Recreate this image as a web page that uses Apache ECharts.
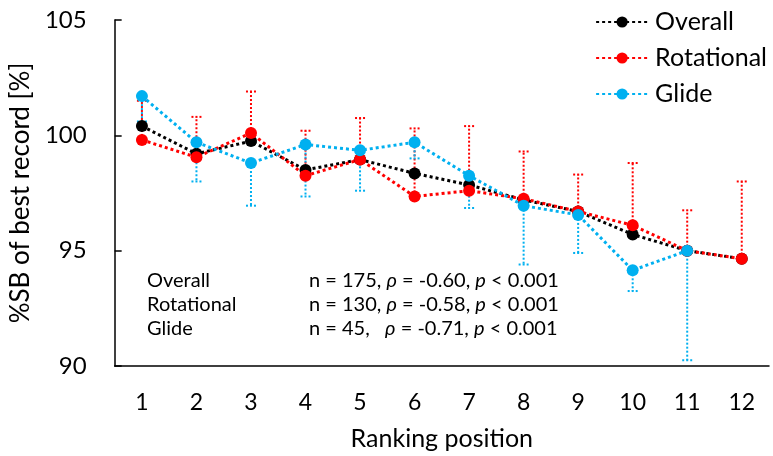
<!DOCTYPE html>
<html>
<head>
<meta charset="utf-8">
<script src="https://cdn.jsdelivr.net/npm/echarts@6/dist/echarts.min.js"></script>
<style>
  html, body { margin: 0; padding: 0; background: #fff; }
  #main { width: 773px; height: 456px; }
</style>
</head>
<body>
<div id="main"></div>
<script>
// ranking positions
const positions = ['1', '2', '3', '4', '5', '6', '7', '8', '9', '10', '11', '12'];

// mean %SB of best record
const overall    = [100.4, 99.2, 99.75, 98.5, 98.95, 98.35, 97.85, 97.2, 96.7, 95.7, 95.0, 94.65];
const rotational = [99.8, 99.05, 100.1, 98.25, 98.95, 97.35, 97.6, 97.25, 96.7, 96.1, 95.0, 94.65];
const glide      = [101.7, 99.7, 98.8, 99.6, 99.35, 99.7, 98.25, 96.95, 96.55, 94.15, 95.0, null];

// error bar ends (rotational upward, glide downward)
const rotationalUpper = [101.5, 100.8, 101.9, 100.2, 100.75, 100.3, 100.4, 99.3, 98.3, 98.8, 96.75, 98.0];
const glideLower      = [100.6, 98.0, 96.95, 97.35, 97.6, 99.0, 96.85, 94.4, 94.9, 93.25, 90.25, null];

const yTicks = [90, 95, 100, 105];

const statRows = [
    ['Overall', 'n = 175, ', '-0.60'],
    ['Rotational', 'n = 130, ', '-0.58'],
    ['Glide', 'n = 45,   ', '-0.71']
];

const FONT = 'Lato, "Open Sans", sans-serif';
const chart = echarts.init(document.getElementById('main'), null, { renderer: 'canvas' });

function errorBarSeries(name, values, ends, color) {
    const data = [];
    values.forEach((v, i) => {
        if (v != null && ends[i] != null) data.push([i, v, ends[i]]);
    });
    return {
        name: name,
        type: 'custom',
        z: 1,
        silent: true,
        data: data,
        renderItem: function (params, api) {
            const i = api.value(0);
            const p0 = api.coord([i, api.value(1)]);
            const p1 = api.coord([i, api.value(2)]);
            const style = { stroke: color, lineWidth: 2, lineDash: [2, 2] };
            return {
                type: 'group',
                children: [
                    { type: 'line', shape: { x1: p0[0], y1: p0[1], x2: p1[0], y2: p1[1] }, style: style },
                    { type: 'line', shape: { x1: p1[0] - 5, y1: p1[1], x2: p1[0] + 5, y2: p1[1] }, style: style }
                ]
            };
        }
    };
}

function lineSeries(name, values, color, z) {
    return {
        name: name,
        type: 'line',
        data: values,
        z: z,
        symbol: 'circle',
        symbolSize: 12,
        connectNulls: false,
        itemStyle: { color: color },
        lineStyle: { color: color, width: 3, type: [3, 3] }
    };
}

const graphics = [];
statRows.forEach((r, k) => {
    const y = 283 + k * 24;
    graphics.push({
        type: 'text', left: 147, top: y - 12,
        style: { text: r[0], font: '20px ' + FONT, fill: '#000' }
    });
    graphics.push({
        type: 'text', left: 309, top: y - 12,
        style: {
            text: '{a|' + r[1] + '}{i|ρ}{a| = ' + r[2] + ', }{i|p}{a| < 0.001}',
            rich: {
                a: { fontSize: 20, fontFamily: FONT, fill: '#000' },
                i: { fontSize: 20, fontFamily: FONT, fontStyle: 'italic', fill: '#000' }
            }
        }
    });
});

const option = {
    backgroundColor: '#fff',
    animation: false,
    grid: { left: 114, right: 4, top: 20, bottom: 90 },
    legend: {
        data: ['Overall', 'Rotational', 'Glide'],
        orient: 'vertical',
        right: 1,
        top: 4,
        itemWidth: 52,
        itemHeight: 14,
        itemGap: 10,
        textStyle: { fontSize: 25, lineHeight: 26, fontFamily: FONT, color: '#000', padding: [0, 0, 0, 2] }
    },
    xAxis: {
        type: 'category',
        data: positions,
        boundaryGap: true,
        name: 'Ranking position',
        nameLocation: 'middle',
        nameGap: 60,
        nameTextStyle: { fontSize: 25, fontFamily: FONT, color: '#000' },
        axisLine: { lineStyle: { color: '#000', width: 1.5 } },
        axisTick: { inside: true, length: 7, lineStyle: { color: '#000', width: 1.5 } },
        axisLabel: { fontSize: 23, fontFamily: FONT, color: '#000', margin: 25 },
        splitLine: { show: false }
    },
    yAxis: {
        type: 'value',
        min: yTicks[0],
        max: yTicks[yTicks.length - 1],
        interval: 5,
        name: '%SB of best record [%]',
        nameLocation: 'middle',
        nameGap: 78,
        nameTextStyle: { fontSize: 26, fontFamily: FONT, color: '#000' },
        axisLine: { show: true, lineStyle: { color: '#000', width: 1.5 } },
        axisTick: { show: true, inside: true, length: 7, lineStyle: { color: '#000', width: 1.5 } },
        axisLabel: { fontSize: 24, fontFamily: FONT, color: '#000', margin: 28 },
        splitLine: { show: false }
    },
    graphic: graphics,
    series: [
        errorBarSeries('Rotational SD', rotational, rotationalUpper, '#ff0000'),
        errorBarSeries('Glide SD', glide, glideLower, '#00b0f0'),
        lineSeries('Overall', overall, '#000000', 3),
        lineSeries('Rotational', rotational, '#ff0000', 4),
        lineSeries('Glide', glide, '#00b0f0', 5)
    ]
};

chart.setOption(option);
</script>
</body>
</html>
